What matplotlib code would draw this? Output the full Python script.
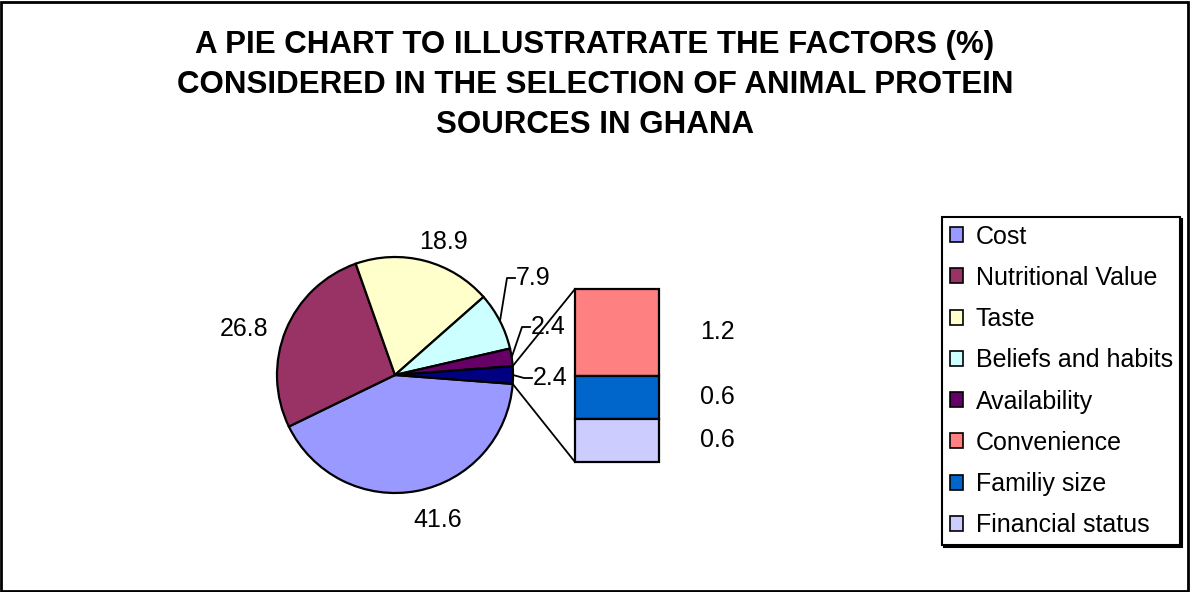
import numpy as np
import matplotlib
matplotlib.use("Agg")
import matplotlib.pyplot as plt
from matplotlib.patches import Patch, Rectangle

plt.rcParams['font.family'] = ['Liberation Sans', 'DejaVu Sans']

# factors shown in the pie; the last one is split out into the bar
pie_labels = ['Cost', 'Nutritional Value', 'Taste', 'Beliefs and habits', 'Availability']
pie_values = [41.6, 26.8, 18.9, 7.9, 2.4]
pie_colors = ['#9999FF', '#993366', '#FFFFCC', '#CCFFFF', '#660066']
other_color = '#000080'

# small factors stacked in the bar (top to bottom)
bar_labels = ['Convenience', 'Familiy size', 'Financial status']
bar_values = [1.2, 0.6, 0.6]
bar_colors = ['#FF8080', '#0066CC', '#CCCCFF']

title = ('A PIE CHART TO ILLUSTRATRATE THE FACTORS (%)\n'
         'CONSIDERED IN THE SELECTION OF ANIMAL PROTEIN\n'
         'SOURCES IN GHANA')

W, H = 1190, 592
fig = plt.figure(figsize=(W / 100, H / 100), dpi=100)
ax = fig.add_axes([0, 0, 1, 1])

# --- pie ---
other = sum(bar_values)
vals = pie_values + [other]
cols = pie_colors + [other_color]
cx, cy, R = 395, 217, 118
start = -other / 2 * 3.6  # centre the "other" slice on 3 o'clock
wedges, _ = ax.pie(vals, colors=cols, startangle=start, counterclock=False,
                   center=(cx, cy), radius=R, frame=True,
                   wedgeprops=dict(edgecolor='black', linewidth=1.6))
ax.set_xlim(0, W)
ax.set_ylim(0, H)
ax.set_aspect('equal')
ax.axis('off')

# mid angles of every slice (degrees, counterclockwise from +x)
ends = start - np.cumsum(vals) * 3.6
begins = ends + np.array(vals) * 3.6
mids = (begins + ends) / 2

fs = 18
# labels for the large slices: (radius factor, angle nudge)
label_pos = [(1.28, 5.7), (1.335, 5.3), (1.2, -5.3)]
for v, a, (d, da) in zip(vals[:3], mids[:3], label_pos):
    t = np.deg2rad(a + da)
    ax.text(cx + d * R * np.cos(t), cy + d * R * np.sin(t), f'{v:.1f}',
            ha='center', va='center', fontsize=fs)

# labels with leader lines for the thin slices
lead_text = [(516, 314), (531, 265), (533, 214)]
for v, a, (tx, ty) in zip(vals[3:], mids[3:], lead_text):
    t = np.deg2rad(a)
    ex, ey = cx + R * np.cos(t), cy + R * np.sin(t)
    pts = [(ex, ey), (tx - 9, ty), (tx - 1, ty)]
    ax.plot([p[0] for p in pts], [p[1] for p in pts], color='black', lw=1.3)
    ax.text(tx, ty, f'{v:.1f}', ha='left', va='center', fontsize=fs)

# --- bar of the "other" slice ---
bx, bw = 617, 84
base = 130
scale = 173 / other
heights = np.array(bar_values) * scale
bottoms = base + np.concatenate([np.cumsum(heights[::-1])[::-1][1:], [0]])
ax.bar([bx] * 3, heights, width=bw, bottom=bottoms, color=bar_colors,
       edgecolor='black', linewidth=1.6, zorder=3)
for v, b, h in zip(bar_values, bottoms, heights):
    ax.text(bx + bw / 2 + 58, b + h / 2, f'{v:.1f}', ha='center', va='center', fontsize=fs)

# connector lines from the slice to the bar corners
top = base + heights.sum()
for ang, yb in [(begins[-1], top), (ends[-1], base)]:
    t = np.deg2rad(ang)
    ax.plot([cx + R * np.cos(t), bx - bw / 2], [cy + R * np.sin(t), yb],
            color='black', lw=1.3)

# --- legend ---
handles = [Patch(facecolor=c, edgecolor='black', linewidth=1.2)
           for c in pie_colors + bar_colors]
leg = ax.legend(handles, pie_labels + bar_labels, loc='upper left',
                bbox_to_anchor=(942 / W, 1 - 217 / H), fontsize=fs,
                frameon=True, fancybox=False, edgecolor='black',
                handlelength=0.55, handleheight=0.55, handletextpad=0.5,
                labelspacing=0.69, borderpad=0.3, borderaxespad=0,
                shadow={'ox': 1.5, 'oy': -1.5, 'color': 'black', 'alpha': 1})
leg.get_frame().set_linewidth(1.5)

# --- title ---
fig.text(0.5, 1 - 85 / H, title, ha='center', va='center', fontsize=22.5,
         fontweight='bold', linespacing=1.42)

# outer border
fig.patches.append(Rectangle((0.001, 0.002), 0.997, 0.995, transform=fig.transFigure,
                             fill=False, edgecolor='black', linewidth=2))

fig.savefig('out.png', dpi=100)
